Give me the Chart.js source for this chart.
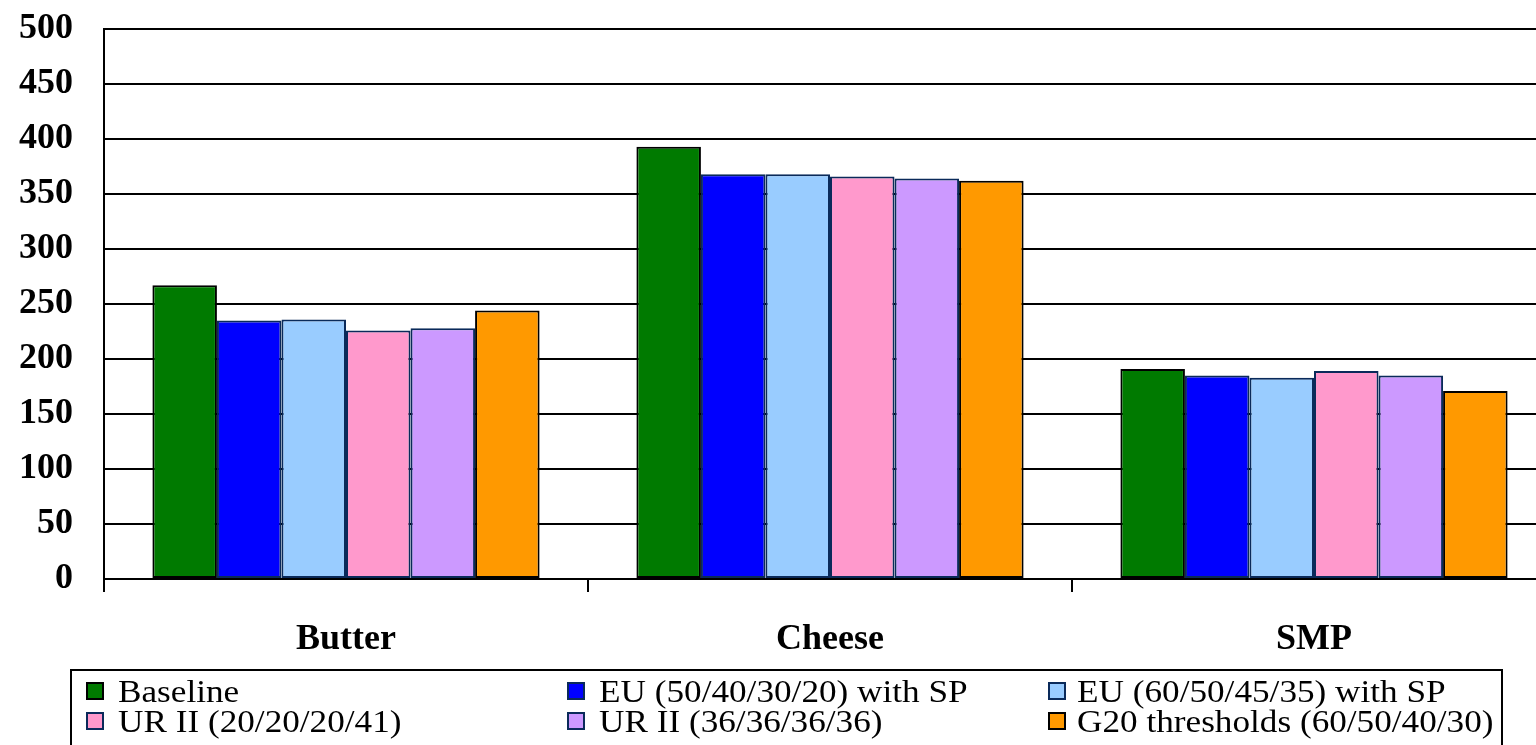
<!DOCTYPE html>
<html>
<head>
<meta charset="utf-8">
<script src="https://cdn.jsdelivr.net/npm/chart.js@4/dist/chart.umd.min.js"></script>
<style>
  html, body { margin: 0; padding: 0; background: #fff; overflow: hidden; }
  #wrap { width: 1536px; height: 745px; overflow: hidden; position: relative; }
  canvas { display: block; }
</style>
</head>
<body>
<div id="wrap"><canvas id="c" width="1600" height="745"></canvas></div>
<script>
// Products on the x axis
const categories = ['Butter', 'Cheese', 'SMP'];

// Scenario names
const seriesNames = [
  'Baseline',
  'EU (50/40/30/20) with SP',
  'EU (60/50/45/35) with SP',
  'UR II (20/20/20/41)',
  'UR II (36/36/36/36)',
  'G20 thresholds (60/50/40/30)'
];

// Values per scenario: Butter, Cheese, SMP
const baseline   = [267, 393, 191];
const eu50       = [235, 368, 185];
const eu60       = [236, 368, 183];
const ur2a       = [226, 366, 189];
const ur2b       = [228, 364, 185];
const g20        = [244, 362, 171];

const seriesValues = [baseline, eu50, eu60, ur2a, ur2b, g20];

// Y axis ticks
const yTicks = [0, 50, 100, 150, 200, 250, 300, 350, 400, 450, 500];

const fillColors   = ['#007A00', '#0000FF', '#99CCFF', '#FF99CC', '#CC99FF', '#FF9900'];
const borderColors = ['#000000', '#0A2A5A', '#0A2A5A', '#0A2A5A', '#0A2A5A', '#000000'];

const serif = '"Liberation Serif", "Times New Roman", serif';

// Boxed two-row legend laid out in three columns
const boxLegend = {
  id: 'boxLegend',
  afterDraw(chart) {
    const ctx = chart.ctx;
    ctx.save();
    ctx.lineWidth = 2;
    ctx.strokeStyle = '#000';
    ctx.strokeRect(71, 670, 1431, 100);
    const boxX = [86, 567, 1048];
    const textX = [118, 599, 1077];
    const baseY = [702, 732];
    const box = 18;
    chart.data.datasets.forEach((ds, i) => {
      const col = i % 3, row = Math.floor(i / 3);
      const by = baseY[row] - 20;
      ctx.fillStyle = ds.borderColor;
      ctx.fillRect(boxX[col], by, box, box);
      ctx.fillStyle = ds.backgroundColor;
      ctx.fillRect(boxX[col] + 2, by + 2, box - 4, box - 4);
      ctx.save();
      ctx.translate(textX[col], baseY[row]);
      ctx.scale(1.1, 1);
      ctx.fillStyle = '#000';
      ctx.font = '32px ' + serif;
      ctx.textBaseline = 'alphabetic';
      ctx.textAlign = 'left';
      ctx.fillText(ds.label, 0, 0);
      ctx.restore();
    });
    ctx.restore();
  }
};

new Chart(document.getElementById('c'), {
  type: 'bar',
  data: {
    labels: categories,
    datasets: seriesNames.map((name, i) => ({
      label: name,
      data: seriesValues[i],
      backgroundColor: fillColors[i],
      borderColor: borderColors[i],
      borderWidth: 2,
      borderSkipped: false,
      barPercentage: 1.0,
      categoryPercentage: 0.8
    }))
  },
  options: {
    responsive: false,
    devicePixelRatio: 1,
    animation: false,
    layout: { padding: { top: 29, right: 44, left: 0, bottom: 0 } },
    plugins: { legend: { display: false }, tooltip: { enabled: false } },
    scales: {
      x: {
        afterFit(scale) { scale.height = 166; },
        grid: {
          display: true,
          drawOnChartArea: false,
          drawTicks: true,
          tickLength: 13,
          color: '#000',
          lineWidth: 2,
          offset: true
        },
        border: { display: true, color: '#000', width: 2 },
        ticks: {
          color: '#000',
          font: { family: serif, size: 36, weight: 'bold' },
          padding: 26,
          maxRotation: 0
        }
      },
      y: {
        min: 0,
        max: 500,
        afterFit(scale) { scale.width = 104; },
        afterBuildTicks(scale) { scale.ticks = yTicks.map(v => ({ value: v })); },
        grid: {
          color: '#000',
          lineWidth: 2,
          drawTicks: true,
          tickLength: 31,
          tickColor: 'rgba(0,0,0,0)'
        },
        border: { display: true, color: '#000', width: 2 },
        ticks: {
          color: '#000',
          font: { family: serif, size: 36, weight: 'bold' },
          padding: 0
        }
      }
    }
  },
  plugins: [boxLegend]
});
</script>
</body>
</html>
